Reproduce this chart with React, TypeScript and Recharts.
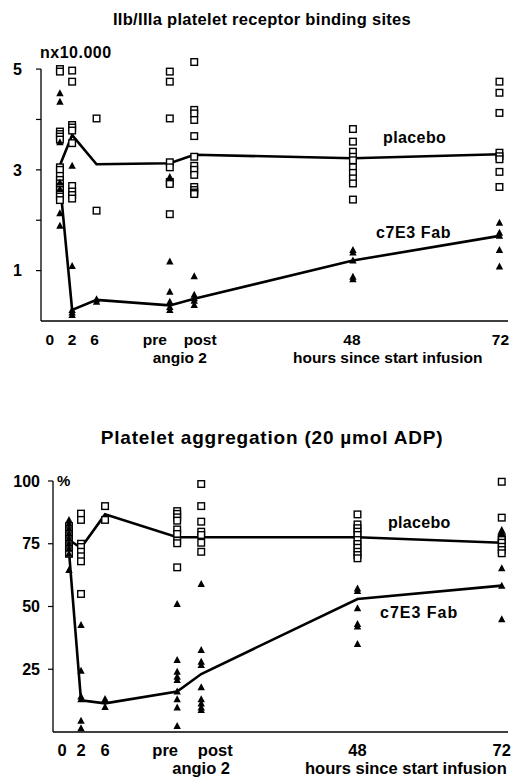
import { ComposedChart, Scatter, Line, XAxis, YAxis, ReferenceLine } from 'recharts'

const FONT = '"Liberation Sans", Arial, Helvetica, sans-serif'

// hours after start of infusion; pre/post angio 2 sit at ~18h and ~22h
const HOURS = [0, 2, 6, 18, 22, 48, 72]
const HOUR_LABELS = ['0', '2', '6', 'pre', 'post', '48', '72']
const ANGIO_LABEL = 'angio 2'
const HOURS_LABEL = 'hours since start infusion'

// IIb/IIIa binding sites (n x 10.000), one list per time point
const bindPlacebo = [
  [5.0, 4.95, 3.76, 3.71, 3.66, 3.6, 3.05, 3.0, 2.88, 2.8, 2.73, 2.66, 2.6, 2.53, 2.47, 2.4],
  [4.97, 4.75, 3.89, 3.84, 3.78, 3.53, 2.68, 2.57, 2.5, 2.43],
  [4.02, 2.19],
  [4.95, 4.75, 4.02, 3.15, 3.05, 2.76, 2.72, 2.12],
  [5.14, 4.19, 4.12, 3.99, 3.67, 3.26, 3.08, 3.0, 2.9, 2.66, 2.6, 2.55, 2.52],
  [3.81, 3.56, 3.36, 3.26, 3.19, 3.05, 2.94, 2.83, 2.73, 2.41],
  [4.75, 4.53, 4.13, 3.34, 3.27, 3.21, 2.96, 2.66],
]
const bindC7e3 = [
  [4.52, 4.35, 3.55, 2.75, 2.62, 2.14, 1.89],
  [3.08, 1.09, 0.22, 0.17, 0.12],
  [0.43, 0.38],
  [2.86, 1.18, 0.58, 0.38, 0.28, 0.22],
  [0.89, 0.52, 0.45, 0.4, 0.32],
  [1.41, 1.36, 1.2, 0.88, 0.83],
  [1.95, 1.75, 1.69, 1.41, 1.08],
]
const bindPlaceboMean = [3.09, 3.69, 3.11, 3.13, 3.3, 3.23, 3.31]
const bindC7e3Mean = [2.75, 0.22, 0.42, 0.31, 0.44, 1.2, 1.69]

// platelet aggregation (%), 20 umol ADP
const aggPlacebo = [
  [82, 80, 79, 78, 77, 76, 75, 74, 73, 72, 71],
  [87, 84.5, 75, 73.7, 71.8, 70, 68, 55],
  [90, 84.5],
  [88, 86.9, 85.5, 84.2, 80.7, 78.9, 76.2, 75.2, 65.6],
  [98.8, 90, 83.8, 79.8, 78.5, 75.4, 71.8],
  [86.7, 82.7, 81.2, 79.8, 78.5, 76.5, 74.9, 73.4, 71.8, 70.5, 69.2],
  [99.7, 85.4, 77.6, 76.5, 75.4, 73.8, 72.5, 71.2],
]
const aggC7e3 = [
  [84.5, 83, 81, 79, 77, 75, 73, 71, 64.5],
  [42.6, 24.4, 14.1, 13, 4.5, 1.5],
  [13.1, 10],
  [51, 28.7, 24, 22, 20.7, 16.1, 13, 9.8, 2.4],
  [59, 32.7, 28, 26.7, 17.8, 13, 11.4, 9.8, 8.8],
  [57.2, 56.2, 49.3, 43, 42, 35.1],
  [80.5, 79.2, 65.2, 58.3, 44.9],
]
const aggPlaceboMean = [76.5, 73.4, 86.7, 77.6, 77.6, 77.6, 75.4]
const aggC7e3Mean = [72, 12.6, 11.4, 16.1, 23.1, 53, 58.3]

const BIND_TICKS = [1, 2, 3, 4, 5]
const AGG_TICKS = [25, 50, 75, 100]

function toPoints(cols: number[][]) {
  return cols.flatMap((vals, i) => vals.map((v) => ({ t: HOURS[i], v })))
}

function toLine(means: number[]) {
  return means.map((v, i) => ({ t: HOURS[i], v }))
}

function SquareMark(p: any) {
  return (
    <rect x={p.cx - 3.3} y={p.cy - 3.3} width={6.6} height={6.6} fill="#fff" stroke="#000" strokeWidth={1.4} />
  )
}

function TriMark(p: any) {
  return <path d={`M${p.cx},${p.cy - 4}L${p.cx + 3.7},${p.cy + 3}L${p.cx - 3.7},${p.cy + 3}Z`} fill="#000" />
}

interface TickLayout {
  labelDx: number[]
  row1: number
  row2: number
  angioDx: number
  hoursDx: number
  fontSize: number
}

function HourTick(props: any) {
  const { x, y, payload, layout } = props
  const l: TickLayout = layout
  const i = HOURS.indexOf(payload.value)
  const textProps = { fontFamily: FONT, fontWeight: 'bold', fontSize: l.fontSize, fill: '#000' }
  return (
    <g>
      <text x={x + l.labelDx[i]} y={y + l.row1} textAnchor="middle" {...textProps}>
        {HOUR_LABELS[i]}
      </text>
      {HOURS[i] === 18 && (
        <text x={x + l.angioDx} y={y + l.row2} textAnchor="middle" {...textProps}>
          {ANGIO_LABEL}
        </text>
      )}
      {HOURS[i] === 72 && (
        <text x={x + l.hoursDx} y={y + l.row2} textAnchor="end" {...textProps}>
          {HOURS_LABEL}
        </text>
      )}
    </g>
  )
}

const topLayout: TickLayout = {
  labelDx: [-10, 0, -2, -15, 6, -1, 1],
  row1: 24,
  row2: 42,
  angioDx: 10,
  hoursDx: -17,
  fontSize: 15.5,
}
const bottomLayout: TickLayout = {
  labelDx: [-7, 0, 0, -12, 14, 0, 0],
  row1: 24,
  row2: 42,
  angioDx: 24,
  hoursDx: 5,
  fontSize: 16.5,
}

const TOP_X = [-3.1, 73.4]
const BOTTOM_X = [-2.66, 73.04]

function label(text: string, left: number, top: number, size: number, extra: any = {}) {
  return (
    <div
      style={{
        position: 'absolute',
        left,
        top,
        fontSize: size,
        lineHeight: 1,
        whiteSpace: 'nowrap',
        ...extra,
      }}
    >
      {text}
    </div>
  )
}

export default function App() {
  const yTick = { fill: '#000', fontSize: 16, fontWeight: 'bold', fontFamily: FONT }
  return (
    <div
      style={{
        position: 'absolute',
        left: 0,
        top: 0,
        width: 511,
        height: 779,
        background: '#fff',
        fontFamily: FONT,
        fontWeight: 'bold',
        color: '#000',
      }}
    >
      <div
        style={{
          position: 'absolute',
          left: 0,
          width: 524,
          top: 11,
          textAlign: 'center',
          fontSize: 16.5,
          letterSpacing: 0.3,
          lineHeight: 1,
        }}
      >
        IIb/IIIa platelet receptor binding sites
      </div>
      {label('nx10.000', 40, 45, 16, { letterSpacing: 0.5 })}
      {label('placebo', 383, 129.6, 16, { letterSpacing: 0.4 })}
      {label('c7E3 Fab', 376, 224.6, 16, { letterSpacing: 0.6 })}

      <div style={{ position: 'absolute', left: 0, top: 0 }}>
        <ComposedChart width={511} height={370} margin={{ top: 59, right: 3, bottom: 0, left: 0 }}>
          <XAxis
            type="number"
            dataKey="t"
            domain={TOP_X}
            ticks={HOURS}
            interval={0}
            tickLine={false}
            tickSize={0}
            tickMargin={0}
            height={49}
            axisLine={{ stroke: '#000', strokeWidth: 1.3 }}
            tick={(p: any) => <HourTick {...p} layout={topLayout} />}
          />
          <YAxis
            type="number"
            domain={[0, 5.2]}
            ticks={BIND_TICKS}
            width={41}
            axisLine={false}
            tickLine={{ stroke: '#000', strokeWidth: 1.2 }}
            tickSize={5}
            tickMargin={14}
            tickFormatter={(v: number) => (v % 2 === 1 ? String(v) : '')}
            tick={yTick}
          />
          <ReferenceLine
            segment={[
              { x: TOP_X[0], y: 0 },
              { x: TOP_X[0], y: 5 },
            ]}
            stroke="#000"
            strokeWidth={1.3}
            ifOverflow="visible"
          />
          <Scatter data={toPoints(bindPlacebo)} dataKey="v" shape={SquareMark} isAnimationActive={false} />
          <Scatter data={toPoints(bindC7e3)} dataKey="v" shape={TriMark} isAnimationActive={false} />
          <Line data={toLine(bindPlaceboMean)} dataKey="v" type="linear" stroke="#000" strokeWidth={2.6} dot={false} isAnimationActive={false} />
          <Line data={toLine(bindC7e3Mean)} dataKey="v" type="linear" stroke="#000" strokeWidth={2.6} dot={false} isAnimationActive={false} />
        </ComposedChart>
      </div>

      <div
        style={{
          position: 'absolute',
          left: 0,
          width: 544,
          top: 427.5,
          textAlign: 'center',
          fontSize: 19,
          letterSpacing: 0.8,
          lineHeight: 1,
        }}
      >
        Platelet aggregation (20 µmol ADP)
      </div>
      {label('%', 57, 473, 15)}
      {label('placebo', 388, 514.6, 16, { letterSpacing: 0.3 })}
      {label('c7E3 Fab', 380, 604.6, 16, { letterSpacing: 1 })}

      <div style={{ position: 'absolute', left: 0, top: 400 }}>
        <ComposedChart width={511} height={379} margin={{ top: 81, right: 3, bottom: 0, left: 0 }}>
          <XAxis
            type="number"
            dataKey="t"
            domain={BOTTOM_X}
            ticks={HOURS}
            interval={0}
            tickLine={false}
            tickSize={0}
            tickMargin={0}
            height={47}
            axisLine={{ stroke: '#000', strokeWidth: 1.3 }}
            tick={(p: any) => <HourTick {...p} layout={bottomLayout} />}
          />
          <YAxis
            type="number"
            domain={[0, 100]}
            ticks={AGG_TICKS}
            width={53}
            axisLine={{ stroke: '#000', strokeWidth: 1.3 }}
            tickLine={{ stroke: '#000', strokeWidth: 1.2 }}
            tickSize={5}
            tickMargin={8}
            tick={yTick}
          />
          <Scatter data={toPoints(aggPlacebo)} dataKey="v" shape={SquareMark} isAnimationActive={false} />
          <Scatter data={toPoints(aggC7e3)} dataKey="v" shape={TriMark} isAnimationActive={false} />
          <Line data={toLine(aggPlaceboMean)} dataKey="v" type="linear" stroke="#000" strokeWidth={2.6} dot={false} isAnimationActive={false} />
          <Line data={toLine(aggC7e3Mean)} dataKey="v" type="linear" stroke="#000" strokeWidth={2.6} dot={false} isAnimationActive={false} />
        </ComposedChart>
      </div>
    </div>
  )
}
